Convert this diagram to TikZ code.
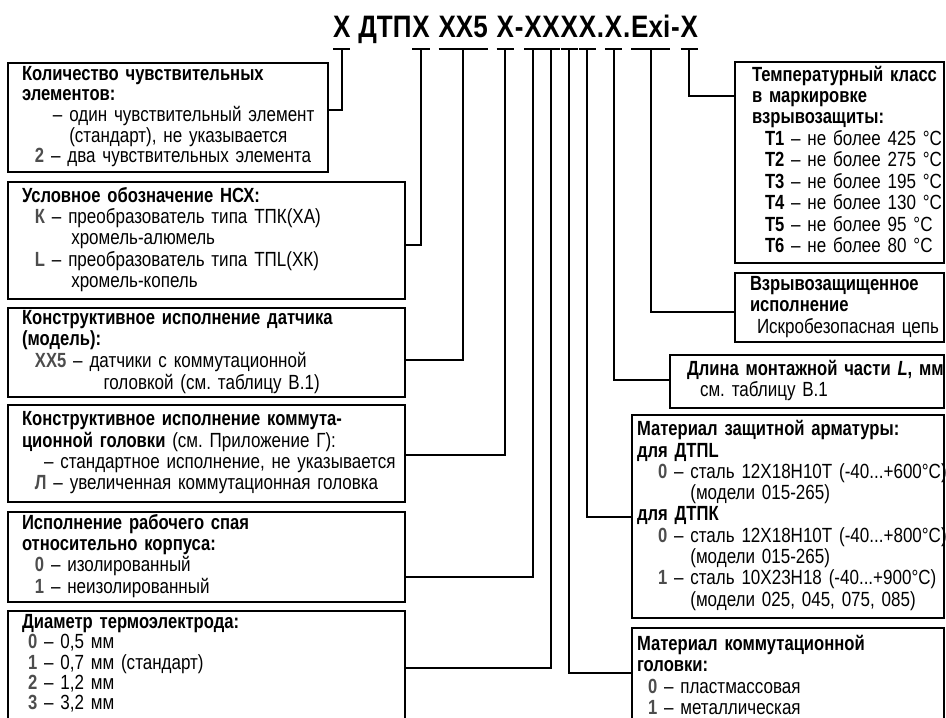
\documentclass[tikz,border=0pt]{standalone}
\usepackage{fontspec}
\setmainfont{Liberation Sans}[
  UprightFeatures={FakeStretch=0.83}, BoldFeatures={FakeStretch=0.81},
  ItalicFeatures={FakeStretch=0.83}, BoldItalicFeatures={FakeStretch=0.81}]
\newfontfamily\codefont{Liberation Sans}[FakeStretch=0.84]
\usepackage{tikz}
\usepackage{xcolor}
\usetikzlibrary{positioning, calc}
\definecolor{markGray}{HTML}{4D4D4D}
\definecolor{frameBlack}{HTML}{000000}
\newcommand{\mrk}[1]{\textbf{\color{markGray}#1}}
\newcommand{\rows}[1]{\noindent\begin{tabular}{@{}l@{}}#1\end{tabular}}
\frenchspacing

\begin{document}
\begin{tikzpicture}[x=1pt, y=-1pt,
    ttl/.style={font=\fontsize{31}{31}\codefont\bfseries, inner sep=0pt, outer sep=0pt},
    tagbar/.style={line width=2pt, draw=frameBlack},
    link/.style={line width=2pt, draw=frameBlack},
    lbox/.style={draw=frameBlack, line width=2.4pt, anchor=north west, align=left,
                 inner xsep=14pt, inner ysep=0pt, outer sep=0pt,
                 font=\fontsize{20.5}{21.3}\selectfont},
    rbox/.style={lbox, inner xsep=15pt}]
  \useasboundingbox (0,0) rectangle (946,718);

  % code string
  \node[ttl, anchor=base west] (t1) at (333,37) {Х};
  \foreach \txt/\nm [remember=\nm as \prev (initially t1)] in
      {\mbox{~}ДТП/p1, Х/t2, \mbox{~}/p2, ХХ5/t3, \mbox{~}/p3, Х/t4, -/p4, Х/t5, Х/t6, Х/t7, Х/t8,
       ./p5, Х/t9, ./p6, Exi/t10, -/p7, Х/t11}{
    \node[ttl, anchor=base west] (\nm) at ([xshift=0.8pt]\prev.base east) {\txt};
  }
  \foreach \t in {t1, t2, t3, t4, t5, t6, t7, t8, t9, t10, t11}
    \draw[tagbar] ([yshift=-12pt]\t.base west) -- ([yshift=-12pt]\t.base east);

  % left column
  \node[lbox, text width=292pt, minimum height=109pt, font=\fontsize{20.5}{19.5}\selectfont]
    (k1) at (8,63) {\rows{%
    \textbf{Количество чувствительных}\\
    \textbf{элементов:}\\
    \hspace*{31pt}– один чувствительный элемент\\
    \hspace*{31pt}\phantom{– }(стандарт), не указывается\\
    \hspace*{13pt}\mrk{2} – два чувствительных элемента}};
  \node[lbox, text width=369pt, minimum height=117pt] (k2) at (8,182) {\rows{%
    \textbf{Условное обозначение НСХ:}\\
    \hspace*{13pt}\mrk{К} – преобразователь типа ТПК(ХА)\\
    \hspace*{16pt}\phantom{\mrk{К} – }хромель-алюмель\\
    \hspace*{13pt}\mrk{L} – преобразователь типа ТПL(ХК)\\
    \hspace*{16pt}\phantom{\mrk{К} – }хромель-копель}};
  \node[lbox, text width=369pt, minimum height=89pt] (k3) at (8,308) {\rows{%
    \textbf{Конструктивное исполнение датчика}\\
    \textbf{(модель):}\\
    \hspace*{13pt}\mrk{ХХ5} – датчики с коммутационной\\
    \hspace*{13pt}\phantom{\mrk{ХХ5} – }\hspace*{14pt}головкой (см. таблицу В.1)}};
  \node[lbox, text width=369pt, minimum height=97pt] (k4) at (8,405) {\rows{%
    \textbf{Конструктивное исполнение коммута-}\\
    \textbf{ционной головки} (см. Приложение Г):\\
    \hspace*{22pt}– стандартное исполнение, не указывается\\
    \hspace*{13pt}\mrk{Л} – увеличенная коммутационная головка}};
  \node[lbox, text width=369pt, minimum height=90pt] (k5) at (8,512) {\rows{%
    \textbf{Исполнение рабочего спая}\\
    \textbf{относительно корпуса:}\\
    \hspace*{13pt}\mrk{0} – изолированный\\
    \hspace*{13pt}\mrk{1} – неизолированный}};
  \node[lbox, text width=369pt, minimum height=108pt, font=\fontsize{20.5}{20}\selectfont]
    (k6) at (8,611) {\rows{%
    \textbf{Диаметр термоэлектрода:}\\
    \hspace*{6pt}\mrk{0} – 0,5 мм\\
    \hspace*{6pt}\mrk{1} – 0,7 мм (стандарт)\\
    \hspace*{6pt}\mrk{2} – 1,2 мм\\
    \hspace*{6pt}\mrk{3} – 3,2 мм}};

  % right column
  \node[rbox, inner xsep=17pt, text width=175pt, minimum height=201pt] (r1) at (735,62) {\rows{%
    \textbf{Температурный класс}\\
    \textbf{в маркировке}\\
    \textbf{взрывозащиты:}\\
    \hspace*{13pt}\textbf{Т1} – не более 425 °С\\
    \hspace*{13pt}\textbf{Т2} – не более 275 °С\\
    \hspace*{13pt}\textbf{Т3} – не более 195 °С\\
    \hspace*{13pt}\textbf{Т4} – не более 130 °С\\
    \hspace*{13pt}\textbf{Т5} – не более 95 °С\\
    \hspace*{13pt}\textbf{Т6} – не более 80 °С}};
  \node[rbox, text width=179pt, minimum height=69pt] (r3) at (735,273) {\rows{%
    \textbf{Взрывозащищенное}\\
    \textbf{исполнение}\\
    \hspace*{7pt}Искробезопасная цепь}};
  \node[rbox, inner xsep=17pt, text width=240pt, minimum height=53pt] (r4) at (670,355) {\rows{%
    \textbf{Длина монтажной части \textit{L}, мм}\\
    \hspace*{13pt}см. таблицу В.1}};
  \node[rbox, inner xsep=5pt, text width=302pt, minimum height=203pt] (r5) at (632,415) {\rows{%
    \textbf{Материал защитной арматуры:}\\
    \textbf{для ДТПL}\\
    \hspace*{21pt}\mrk{0} – сталь 12Х18Н10Т (-40...+600°С)\\
    \hspace*{21pt}\phantom{\mrk{0} – }(модели 015-265)\\
    \textbf{для ДТПК}\\
    \hspace*{21pt}\mrk{0} – сталь 12Х18Н10Т (-40...+800°С)\\
    \hspace*{21pt}\phantom{\mrk{0} – }(модели 015-265)\\
    \hspace*{21pt}\mrk{1} – сталь 10Х23Н18 (-40...+900°С)\\
    \hspace*{21pt}\phantom{\mrk{0} – }(модели 025, 045, 075, 085)}};
  \node[rbox, inner xsep=5pt, text width=302pt, minimum height=100pt] (r6) at (632,628) {\rows{%
    \textbf{Материал коммутационной}\\
    \textbf{головки:}\\
    \hspace*{11pt}\mrk{0} – пластмассовая\\
    \hspace*{11pt}\mrk{1} – металлическая}};

  % leaders
  \foreach \t/\b/\y in {t1/k1/110, t2/k2/245, t3/k3/360, t4/k4/455, t5/k5/577, t6/k6/668}
    \draw[link] ([yshift=-12pt]\t.base) |- (\b.east |- 0,\y);
  \foreach \t/\b/\y in {t11/r1/96, t10/r3/312, t9/r4/380, t8/r5/517, t7/r6/673}
    \draw[link] ([yshift=-12pt]\t.base) |- (\b.west |- 0,\y);
\end{tikzpicture}
\end{document}
